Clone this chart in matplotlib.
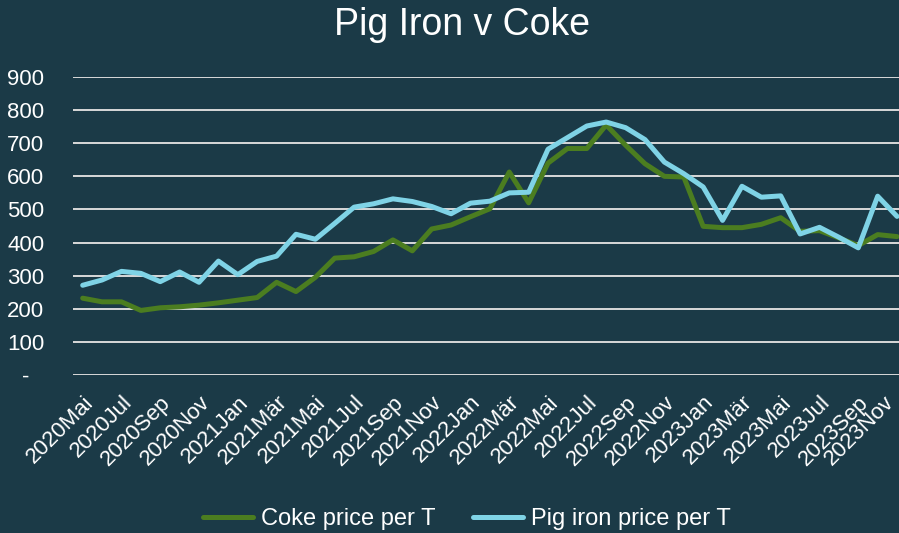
import matplotlib.pyplot as plt
from matplotlib.transforms import ScaledTranslation
import numpy as np

# monthly series, 2020 Mai .. 2023 Nov
month_names = ['Jan', 'Feb', 'Mär', 'Apr', 'Mai', 'Jun',
               'Jul', 'Aug', 'Sep', 'Okt', 'Nov', 'Dez']
start_year, start_month = 2020, 5
n_months = 43

coke = [232, 221, 221, 195, 203, 206, 211, 218, 226, 234, 280, 252, 295,
        353, 357, 373, 408, 375, 441, 453, 478, 502, 613, 520, 640, 684,
        684, 755, 694, 638, 600, 598, 449, 445, 445, 455, 475, 434, 436,
        414, 391, 424, 418]
pig_iron = [271, 287, 313, 307, 282, 311, 280, 344, 303, 343, 359, 425, 410,
            458, 507, 517, 532, 524, 509, 487, 519, 525, 550, 552, 682, 717,
            752, 764, 747, 711, 643, 608, 568, 467, 570, 537, 541, 426, 446,
            416, 384, 540, 479]

labels = []
for i in range(n_months):
    m = start_month - 1 + i
    labels.append(f"{start_year + m // 12}{month_names[m % 12]}")

yticks = [0, 100, 200, 300, 400, 500, 600, 700, 800, 900]
ytick_labels = ['-' if v == 0 else str(v) for v in yticks]

bg = '#1b3a47'
green = '#4b7d20'
blue = '#7fd3e6'
grid_col = '#d9d9d9'

plt.rcParams['font.family'] = ['Liberation Sans', 'DejaVu Sans']

fig = plt.figure(figsize=(8.99, 5.33), dpi=100, facecolor=bg)
ax = fig.add_axes([73 / 899, (533 - 375) / 533, 826 / 899, 298 / 533])
ax.set_facecolor(bg)

x = np.arange(n_months)
ax.plot(x, coke, color=green, lw=3.6, label='Coke price per T',
        solid_joinstyle='round', solid_capstyle='round', zorder=3)
ax.plot(x, pig_iron, color=blue, lw=3.6, label='Pig iron price per T',
        solid_joinstyle='round', solid_capstyle='round', zorder=4)

ax.set_xlim(-0.5, 42.1)
ax.set_ylim(0, 900)
ax.set_yticks(yticks)
ax.set_yticklabels(ytick_labels, color='white', fontsize=16, ha='center')
ax.tick_params(axis='y', length=0, pad=34)
ax.yaxis.grid(True, color=grid_col, lw=1.4)
ax.set_axisbelow(True)

ax.set_xticks(x[::2])
ax.set_xticklabels(labels[::2], rotation=45, ha='right', va='top',
                   rotation_mode='anchor', color='white', fontsize=16)
ax.tick_params(axis='x', length=0, pad=12)
# Excel nudges the last label inwards so it stays inside the chart
last = ax.get_xticklabels()[-1]
last.set_transform(last.get_transform() +
                   ScaledTranslation(-10 / 72, 0, fig.dpi_scale_trans))

for s in ax.spines.values():
    s.set_visible(False)

fig.text(462 / 899, 1 - 25 / 533, 'Pig Iron v Coke', color='white',
         fontsize=27, ha='center', va='center')

fig.legend(loc='center', bbox_to_anchor=(467 / 899, 14 / 533), ncol=2,
           frameon=False, fontsize=17, labelcolor='white', handlelength=2.1,
           handletextpad=0.35, columnspacing=1.6)

fig.savefig('out.png', dpi=100, facecolor=bg)
